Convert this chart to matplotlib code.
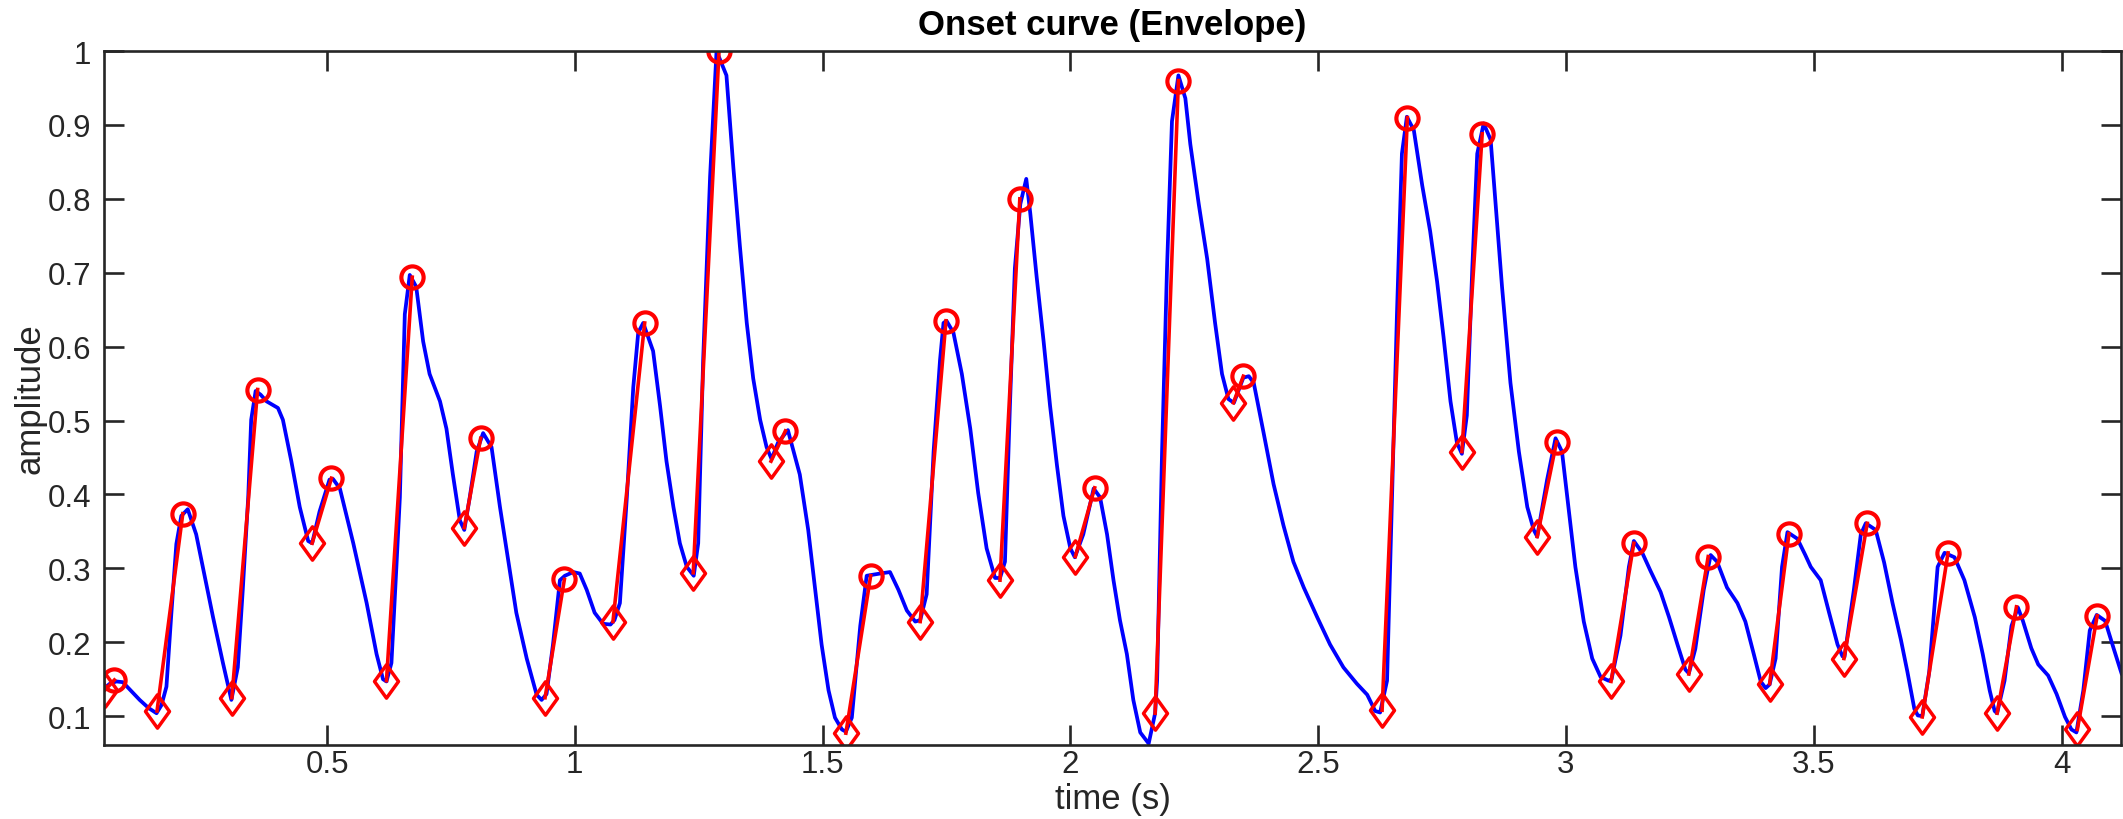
import numpy as np
import matplotlib
matplotlib.use("Agg")
import matplotlib.pyplot as plt
from matplotlib.path import Path

plt.rcParams['font.family'] = ['Liberation Sans', 'DejaVu Sans']

# envelope (blue curve)
env_t = [0.051, 0.062, 0.075, 0.088, 0.105, 0.122, 0.140, 0.156, 0.166, 0.176,
         0.186, 0.196, 0.206, 0.219, 0.236, 0.253, 0.270, 0.290, 0.307, 0.320,
         0.330, 0.341, 0.347, 0.356, 0.366, 0.378, 0.401, 0.411, 0.428, 0.445,
         0.462, 0.470, 0.485, 0.505, 0.512, 0.526, 0.553, 0.580, 0.600, 0.613,
         0.620, 0.630, 0.640, 0.647, 0.657, 0.667, 0.680, 0.694, 0.707, 0.728,
         0.741, 0.754, 0.768, 0.777, 0.788, 0.802, 0.815, 0.832, 0.849, 0.862,
         0.882, 0.903, 0.923, 0.933, 0.943, 0.956, 0.970, 0.980, 0.997, 1.010,
         1.024, 1.040, 1.057, 1.072, 1.080, 1.091, 1.105, 1.118, 1.128, 1.138,
         1.158, 1.172, 1.185, 1.199, 1.212, 1.226, 1.240, 1.249, 1.259, 1.273,
         1.286, 1.306, 1.320, 1.333, 1.347, 1.360, 1.374, 1.387, 1.397, 1.410,
         1.430, 1.454, 1.471, 1.485, 1.498, 1.512, 1.525, 1.539, 1.547, 1.559,
         1.576, 1.589, 1.616, 1.636, 1.653, 1.670, 1.687, 1.697, 1.710, 1.724,
         1.737, 1.744, 1.750, 1.764, 1.781, 1.798, 1.814, 1.831, 1.848, 1.858,
         1.868, 1.878, 1.888, 1.899, 1.911, 1.919, 1.932, 1.946, 1.959, 1.973,
         1.986, 2.000, 2.009, 2.026, 2.047, 2.060, 2.074, 2.087, 2.100, 2.114,
         2.127, 2.141, 2.158, 2.171, 2.175, 2.185, 2.195, 2.205, 2.218, 2.232,
         2.242, 2.259, 2.276, 2.292, 2.306, 2.319, 2.330, 2.349, 2.360, 2.370,
         2.390, 2.410, 2.430, 2.450, 2.471, 2.498, 2.524, 2.551, 2.578, 2.599,
         2.615, 2.625, 2.639, 2.649, 2.659, 2.669, 2.679, 2.693, 2.710, 2.726,
         2.740, 2.753, 2.767, 2.780, 2.790, 2.800, 2.811, 2.821, 2.834, 2.848,
         2.861, 2.871, 2.888, 2.905, 2.922, 2.935, 2.942, 2.962, 2.979, 2.992,
         3.006, 3.019, 3.036, 3.053, 3.070, 3.086, 3.092, 3.110, 3.127, 3.137,
         3.154, 3.171, 3.191, 3.208, 3.225, 3.241, 3.248, 3.261, 3.278, 3.292,
         3.305, 3.325, 3.346, 3.362, 3.379, 3.393, 3.403, 3.411, 3.423, 3.436,
         3.447, 3.467, 3.483, 3.494, 3.514, 3.531, 3.548, 3.558, 3.562, 3.581,
         3.595, 3.605, 3.625, 3.642, 3.659, 3.676, 3.689, 3.703, 3.710, 3.719,
         3.733, 3.750, 3.764, 3.784, 3.804, 3.825, 3.841, 3.855, 3.865, 3.870,
         3.885, 3.899, 3.912, 3.922, 3.939, 3.953, 3.973, 3.990, 4.007, 4.020,
         4.030, 4.044, 4.057, 4.071, 4.088, 4.105, 4.121]
env_y = [0.138, 0.144, 0.147, 0.146, 0.134, 0.122, 0.111, 0.104, 0.115, 0.140,
         0.240, 0.333, 0.371, 0.380, 0.346, 0.290, 0.234, 0.172, 0.122, 0.166,
         0.271, 0.396, 0.501, 0.540, 0.535, 0.526, 0.517, 0.501, 0.445, 0.383,
         0.337, 0.334, 0.377, 0.420, 0.421, 0.408, 0.334, 0.253, 0.184, 0.150,
         0.147, 0.172, 0.302, 0.396, 0.644, 0.697, 0.681, 0.607, 0.563, 0.526,
         0.489, 0.427, 0.365, 0.352, 0.396, 0.458, 0.483, 0.464, 0.383, 0.327,
         0.240, 0.178, 0.129, 0.122, 0.130, 0.197, 0.284, 0.290, 0.295, 0.293,
         0.271, 0.240, 0.225, 0.224, 0.230, 0.253, 0.396, 0.545, 0.619, 0.632,
         0.594, 0.520, 0.445, 0.383, 0.334, 0.302, 0.290, 0.334, 0.582, 0.830,
         1.000, 0.967, 0.842, 0.737, 0.632, 0.557, 0.501, 0.464, 0.448, 0.470,
         0.487, 0.427, 0.352, 0.271, 0.197, 0.135, 0.098, 0.082, 0.079, 0.098,
         0.222, 0.290, 0.293, 0.295, 0.271, 0.243, 0.228, 0.230, 0.265, 0.458,
         0.582, 0.632, 0.635, 0.619, 0.563, 0.489, 0.402, 0.327, 0.287, 0.287,
         0.309, 0.520, 0.706, 0.793, 0.827, 0.781, 0.694, 0.607, 0.520, 0.439,
         0.371, 0.327, 0.315, 0.346, 0.408, 0.396, 0.346, 0.284, 0.230, 0.184,
         0.122, 0.078, 0.063, 0.104, 0.148, 0.458, 0.706, 0.905, 0.967, 0.936,
         0.874, 0.793, 0.719, 0.632, 0.563, 0.529, 0.524, 0.558, 0.560, 0.551,
         0.483, 0.414, 0.358, 0.309, 0.274, 0.234, 0.197, 0.166, 0.144, 0.129,
         0.107, 0.105, 0.148, 0.396, 0.644, 0.861, 0.911, 0.893, 0.818, 0.756,
         0.688, 0.613, 0.526, 0.470, 0.455, 0.507, 0.706, 0.861, 0.902, 0.880,
         0.768, 0.681, 0.551, 0.458, 0.383, 0.352, 0.343, 0.420, 0.476, 0.458,
         0.377, 0.302, 0.228, 0.178, 0.153, 0.148, 0.150, 0.209, 0.302, 0.337,
         0.321, 0.296, 0.268, 0.234, 0.197, 0.163, 0.158, 0.191, 0.271, 0.318,
         0.309, 0.274, 0.253, 0.228, 0.184, 0.147, 0.138, 0.143, 0.178, 0.302,
         0.349, 0.340, 0.318, 0.302, 0.284, 0.240, 0.197, 0.181, 0.180, 0.271,
         0.346, 0.361, 0.352, 0.308, 0.253, 0.203, 0.160, 0.110, 0.101, 0.100,
         0.160, 0.302, 0.321, 0.315, 0.284, 0.234, 0.184, 0.135, 0.107, 0.104,
         0.148, 0.222, 0.247, 0.229, 0.192, 0.170, 0.155, 0.130, 0.099, 0.082,
         0.078, 0.135, 0.216, 0.237, 0.229, 0.192, 0.158]

# onsets (diamonds) and peaks (circles)
onset_t = [0.053, 0.157, 0.308, 0.470, 0.620, 0.777, 0.940, 1.077, 1.239, 1.396,
           1.547, 1.697, 1.858, 2.010, 2.171, 2.329, 2.629, 2.790, 2.942, 3.091,
           3.248, 3.411, 3.561, 3.719, 3.870, 4.032]
onset_y = [0.136, 0.107, 0.125, 0.334, 0.148, 0.355, 0.125, 0.228, 0.294, 0.445,
           0.077, 0.228, 0.284, 0.316, 0.104, 0.524, 0.108, 0.458, 0.343, 0.147,
           0.157, 0.144, 0.178, 0.099, 0.104, 0.082]
peak_t = [0.071, 0.209, 0.360, 0.509, 0.672, 0.810, 0.979, 1.141, 1.291, 1.425,
          1.597, 1.749, 1.898, 2.049, 2.218, 2.349, 2.680, 2.831, 2.981, 3.137,
          3.287, 3.450, 3.608, 3.771, 3.909, 4.072]
peak_y = [0.149, 0.374, 0.542, 0.422, 0.694, 0.476, 0.285, 0.632, 1.000, 0.486,
          0.290, 0.635, 0.800, 0.409, 0.960, 0.560, 0.910, 0.888, 0.471, 0.334,
          0.316, 0.347, 0.361, 0.321, 0.248, 0.236]

xticks = [0.5, 1, 1.5, 2, 2.5, 3, 3.5, 4]
xtick_labels = ['0.5', '1', '1.5', '2', '2.5', '3', '3.5', '4']
yticks = [0.1, 0.2, 0.3, 0.4, 0.5, 0.6, 0.7, 0.8, 0.9, 1.0]
ytick_labels = ['0.1', '0.2', '0.3', '0.4', '0.5', '0.6', '0.7', '0.8', '0.9', '1']

# matlab-like diamond, a bit taller than wide
diamond = Path([(0, 1), (0.72, 0), (0, -1), (-0.72, 0), (0, 1)],
               [Path.MOVETO, Path.LINETO, Path.LINETO, Path.LINETO, Path.CLOSEPOLY])

W, H = 2123, 820
fig = plt.figure(figsize=(W / 100, H / 100), dpi=100)
ax = fig.add_axes([104 / W, 1 - 746 / H, (2121 - 104) / W, (746 - 52) / H])

ax.plot(env_t, env_y, color='b', lw=2.7)
for i in range(len(onset_t)):
    ax.plot([onset_t[i], peak_t[i]], [onset_y[i], peak_y[i]], color='r', lw=2.6)
ax.plot(onset_t, onset_y, marker=diamond, ls='none', mfc='none', mec='r', ms=24, mew=2.5)
ax.plot(peak_t, peak_y, 'o', mfc='none', mec='r', ms=16, mew=3)

ax.set_xlim(0.05, 4.12)
ax.set_ylim(0.061, 1.0)
ax.set_xticks(xticks)
ax.set_xticklabels(xtick_labels)
ax.set_yticks(yticks)
ax.set_yticklabels(ytick_labels)

dark = (0.15, 0.15, 0.15)
for s in ax.spines.values():
    s.set_linewidth(1.9)
    s.set_color(dark)
ax.tick_params(direction='in', length=14.5, width=1.9, top=True, right=True,
               labelsize=22.5, colors=dark)
ax.tick_params(axis='x', pad=3)
ax.tick_params(axis='y', pad=9)

ax.set_xlabel('time (s)', fontsize=25, color=dark, labelpad=2)
ax.set_ylabel('amplitude', fontsize=25, color=dark, labelpad=1)
ax.set_title('Onset curve (Envelope)', fontsize=25, fontweight='bold', pad=12)

fig.savefig('out.png', dpi=100)
